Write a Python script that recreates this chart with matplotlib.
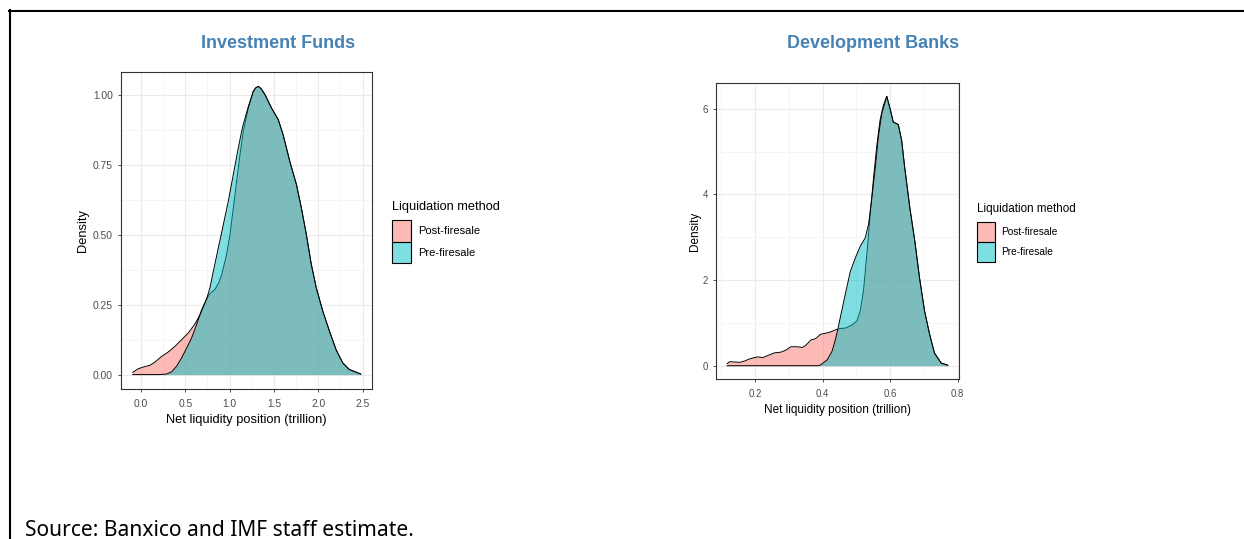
import matplotlib.pyplot as plt
from matplotlib.patches import Patch
from matplotlib.lines import Line2D
from matplotlib.colors import to_rgba

plt.rcParams['font.family'] = ['Liberation Sans', 'DejaVu Sans']

# Investment Funds: density curves
funds_post_x = [-0.094, -0.03, 0.045, 0.10, 0.158, 0.233, 0.308, 0.383, 0.459, 0.534,
                0.609, 0.677, 0.741, 0.78, 0.835, 0.88, 0.91, 0.966, 1.004, 1.041,
                1.079, 1.117, 1.154, 1.211, 1.267, 1.295, 1.325, 1.355, 1.40, 1.474,
                1.549, 1.604, 1.679, 1.754, 1.81, 1.866, 1.922, 1.978, 2.052, 2.127,
                2.201, 2.276, 2.351, 2.48]
funds_post_y = [0.008, 0.021, 0.029, 0.033, 0.045, 0.065, 0.081, 0.101, 0.125, 0.149,
                0.181, 0.220, 0.271, 0.290, 0.305, 0.330, 0.357, 0.429, 0.500, 0.595,
                0.690, 0.786, 0.869, 0.952, 1.012, 1.025, 1.030, 1.022, 1.000, 0.952,
                0.911, 0.857, 0.762, 0.679, 0.595, 0.500, 0.393, 0.310, 0.226, 0.155,
                0.089, 0.042, 0.018, 0.002]
funds_pre_x = [-0.094, 0.0, 0.10, 0.20, 0.289, 0.346, 0.402, 0.459, 0.515, 0.571,
               0.628, 0.684, 0.741, 0.778, 0.816, 0.872, 0.929, 0.985, 1.041, 1.098,
               1.143, 1.211, 1.267, 1.295, 1.325, 1.355, 1.40, 1.474, 1.549, 1.604,
               1.679, 1.754, 1.81, 1.866, 1.922, 1.978, 2.052, 2.127, 2.201, 2.276,
               2.351, 2.48]
funds_pre_y = [0.0, 0.0, 0.0, 0.0, 0.002, 0.010, 0.030, 0.060, 0.095, 0.131,
               0.179, 0.232, 0.271, 0.310, 0.369, 0.452, 0.536, 0.619, 0.714, 0.810,
               0.881, 0.958, 1.012, 1.025, 1.030, 1.022, 1.000, 0.952, 0.911, 0.857,
               0.762, 0.679, 0.595, 0.500, 0.393, 0.310, 0.226, 0.155, 0.089, 0.042,
               0.018, 0.002]

# Development Banks
banks_post_x = [0.117, 0.125, 0.139, 0.154, 0.169, 0.183, 0.198, 0.208, 0.223, 0.237,
                0.257, 0.276, 0.291, 0.306, 0.325, 0.34, 0.35, 0.365, 0.379, 0.394,
                0.409, 0.424, 0.438, 0.453, 0.468, 0.487, 0.502, 0.512, 0.521, 0.531,
                0.541, 0.551, 0.56, 0.57, 0.58, 0.59, 0.601, 0.609, 0.624, 0.634,
                0.643, 0.658, 0.673, 0.687, 0.702, 0.717, 0.731, 0.751, 0.771]
banks_post_y = [0.05, 0.095, 0.087, 0.079, 0.11, 0.158, 0.19, 0.206, 0.19, 0.237,
                0.30, 0.316, 0.364, 0.443, 0.443, 0.427, 0.474, 0.60, 0.632, 0.735,
                0.759, 0.79, 0.838, 0.87, 0.88, 0.95, 1.05, 1.30, 1.75, 2.60,
                3.54, 4.40, 5.10, 5.73, 6.08, 6.29, 5.96, 5.69, 5.63, 5.26,
                4.63, 3.70, 2.91, 2.05, 1.27, 0.73, 0.30, 0.063, 0.01]
banks_pre_x = [0.117, 0.2, 0.3, 0.389, 0.399, 0.414, 0.428, 0.438, 0.445, 0.453,
               0.468, 0.482, 0.497, 0.512, 0.526, 0.536, 0.546, 0.556, 0.565, 0.575,
               0.59, 0.601, 0.609, 0.624, 0.634, 0.643, 0.658, 0.673, 0.687, 0.702,
               0.717, 0.731, 0.751, 0.771]
banks_pre_y = [0.0, 0.0, 0.0, 0.0, 0.047, 0.142, 0.34, 0.617, 0.85, 1.15,
               1.70, 2.20, 2.52, 2.80, 2.98, 3.30, 3.93, 4.63, 5.34, 5.88,
               6.29, 5.96, 5.69, 5.63, 5.26, 4.63, 3.70, 2.91, 2.05, 1.27,
               0.73, 0.30, 0.063, 0.01]

labels = ['Post-firesale', 'Pre-firesale']
PINK = '#F8766D'
TEAL = '#00BFC4'
W, H = 1244, 539

fig = plt.figure(figsize=(W / 100, H / 100), dpi=100)


def px_rect(x0, y0, x1, y1):
    return [x0 / W, 1 - y1 / H, (x1 - x0) / W, (y1 - y0) / H]


def panel(rect, title, title_xy, px, py, qx, qy, xlim, ylim, xt, xl, yt, yl,
          xminor, yminor, leg, fs, pads):
    ax = fig.add_axes(rect)
    ax.fill_between(px, py, color=PINK, alpha=0.5, lw=0, zorder=2)
    ax.plot(px, py, color='black', lw=0.7, zorder=3)
    ax.fill_between(qx, qy, color=TEAL, alpha=0.5, lw=0, zorder=4)
    ax.plot(qx, qy, color='black', lw=0.7, zorder=5)
    ax.set_xlim(xlim)
    ax.set_ylim(ylim)
    ax.set_xticks(xt)
    ax.set_xticklabels(xl)
    ax.set_yticks(yt)
    ax.set_yticklabels(yl)
    ax.set_xticks(xminor, minor=True)
    ax.set_yticks(yminor, minor=True)
    ax.grid(which='major', color='#EBEBEB', lw=0.8)
    ax.grid(which='minor', color='#F2F2F2', lw=0.5)
    ax.set_axisbelow(True)
    ax.tick_params(which='major', length=2.5, width=0.6, color='#333333',
                   labelsize=fs[0], labelcolor='#4D4D4D')
    ax.tick_params(axis='x', which='major', pad=pads[0])
    ax.tick_params(axis='y', which='major', pad=pads[1])
    ax.tick_params(which='minor', length=0)
    for s in ax.spines.values():
        s.set_color('#333333')
        s.set_linewidth(0.8)
    ax.set_xlabel('Net liquidity position (trillion)', fontsize=fs[1], labelpad=pads[2])
    ax.set_ylabel('Density', fontsize=fs[1], labelpad=pads[3])
    fig.text(title_xy[0] / W, 1 - title_xy[1] / H, title, ha='center', va='center',
             fontsize=13, fontweight='bold', color='#4682B4')
    # legend: title as text, keys below it
    lx, ly, ktop, kw, kh = leg
    fig.text(lx / W, 1 - ly / H, 'Liquidation method', ha='left', va='center',
             fontsize=fs[3])
    handles = [Patch(facecolor=to_rgba(PINK, 0.5), edgecolor='black', lw=0.8),
               Patch(facecolor=to_rgba(TEAL, 0.5), edgecolor='black', lw=0.8)]
    f_px = fs[2] * 100 / 72
    hh = (kh / f_px - 0.245) / 0.65
    fig.legend(handles, labels, loc='upper left',
               bbox_to_anchor=(lx / W, 1 - ktop / H),
               frameon=False, fontsize=fs[2],
               handlelength=kw / f_px, handleheight=hh, labelspacing=0.0,
               handletextpad=0.6, borderpad=0, borderaxespad=0)
    return ax


panel(px_rect(121, 72, 372, 389), 'Investment Funds', (278, 43),
      funds_post_x, funds_post_y, funds_pre_x, funds_pre_y,
      (-0.226, 2.607), (-0.0515, 1.0815),
      [0, 0.5, 1.0, 1.5, 2.0, 2.5], ['0.0', '0.5', '1.0', '1.5', '2.0', '2.5'],
      [0, 0.25, 0.5, 0.75, 1.0], ['0.00', '0.25', '0.50', '0.75', '1.00'],
      [0.25, 0.75, 1.25, 1.75, 2.25], [0.125, 0.375, 0.625, 0.875],
      (392, 207, 220, 19, 21.5), (7.4, 9.3, 8.0, 9.2), (5, 3.5, 3.5, 3))

panel(px_rect(716, 83, 959, 379), 'Development Banks', (873, 44),
      banks_post_x, banks_post_y, banks_pre_x, banks_pre_y,
      (0.084, 0.804), (-0.31, 6.6),
      [0.2, 0.4, 0.6, 0.8], ['0.2', '0.4', '0.6', '0.8'],
      [0, 2, 4, 6], ['0', '2', '4', '6'],
      [0.1, 0.3, 0.5, 0.7], [1, 3, 5],
      (977, 209, 222, 18, 20), (6.9, 8.5, 7.3, 8.4), (4.5, 3.5, 3.5, 1))

# outer frame (top and left edges only visible in the crop)
fig.add_artist(Line2D([9 / W, 1], [1 - 10.5 / H, 1 - 10.5 / H], color='black', lw=1.5))
fig.add_artist(Line2D([10 / W, 10 / W], [0, 1 - 10 / H], color='black', lw=1.5))

fig.text(25 / W, 1 - 536 / H, 'Source: Banxico and IMF staff estimate.',
         family=['Noto Sans', 'DejaVu Sans'], fontsize=15.1, va='baseline', ha='left')

fig.savefig('out.png', dpi=100)
